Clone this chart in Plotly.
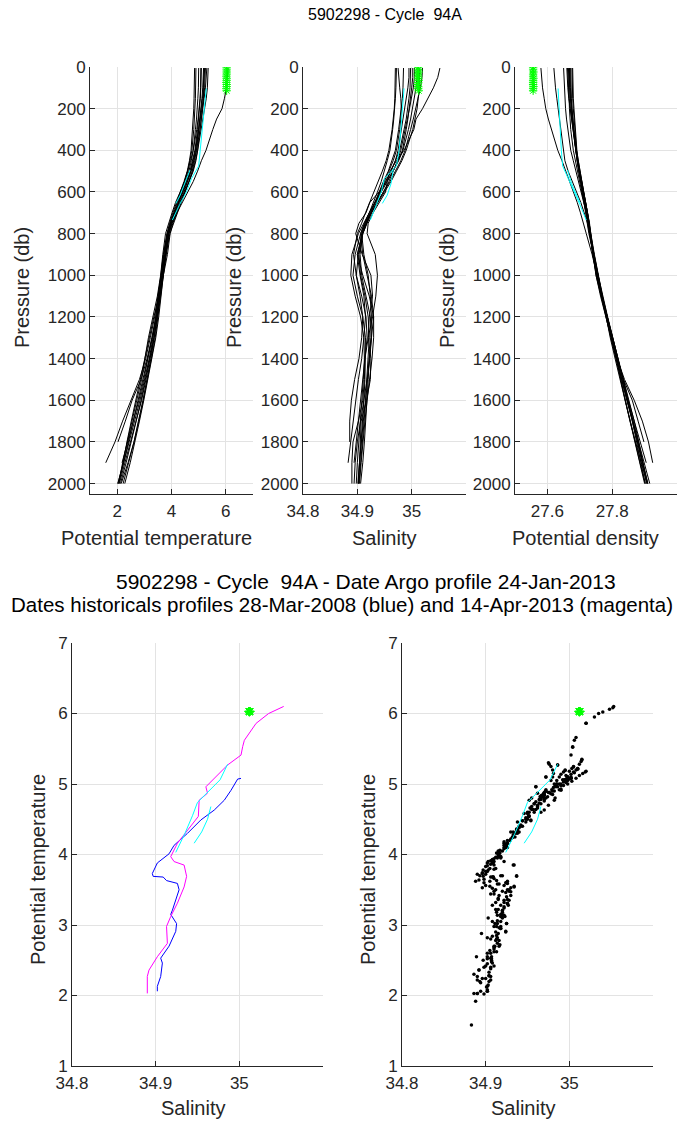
import plotly.graph_objects as go

# ---------------- data ----------------
P = [5, 50, 100, 150, 200, 250, 300, 400, 450, 500, 550, 600, 650, 700, 750, 800,
     900, 1000, 1100, 1200, 1300, 1400, 1500, 1600, 1700, 1800, 1900, 2000]

# historical profiles (potential temperature, salinity, potential density)
theta_w = [6.08, 6.06, 6.02, 5.95, 5.86, 5.66, 5.52, 5.27, 5.10, 4.96, 4.80, 4.60, 4.40, 4.20, 4.05, 3.95,
           3.85, 3.70, 3.55, 3.35, 3.18, 3.02, 2.85, 2.68, 2.52, 2.36, 2.22, 2.03]
sal_w = [35.052, 35.048, 35.040, 35.030, 35.020, 35.008, 35.004, 34.986, 34.972, 34.960, 34.955, 34.952, 34.940, 34.929, 34.920, 34.918,
         34.933, 34.937, 34.934, 34.928, 34.920, 34.914, 34.913, 34.910, 34.902, 34.892, 34.890, 34.890]
sig_w = [27.580, 27.582, 27.585, 27.590, 27.595, 27.603, 27.612, 27.632, 27.645, 27.657, 27.668, 27.682, 27.692, 27.702, 27.712, 27.720,
         27.738, 27.752, 27.768, 27.785, 27.802, 27.818, 27.835, 27.852, 27.868, 27.882, 27.895, 27.908]

theta_b = [5.08, 5.08, 5.07, 5.05, 5.02, 4.98, 4.93, 4.80, 4.70, 4.60, 4.48, 4.32, 4.15, 4.02, 3.90, 3.78,
           3.68, 3.60, 3.48, 3.32, 3.15, 3.02, 2.90, 2.72, 2.55, 2.38, 2.20, 2.06]
sal_b = [35.002, 35.002, 35.000, 34.998, 34.996, 34.993, 34.990, 34.983, 34.975, 34.966, 34.954, 34.940, 34.923, 34.916, 34.903, 34.897,
         34.909, 34.925, 34.928, 34.922, 34.920, 34.925, 34.924, 34.917, 34.907, 34.906, 34.904, 34.902]
sig_b = [27.676, 27.676, 27.677, 27.678, 27.680, 27.682, 27.684, 27.690, 27.694, 27.698, 27.702, 27.707, 27.713, 27.718, 27.723, 27.728,
         27.742, 27.756, 27.770, 27.786, 27.802, 27.818, 27.832, 27.848, 27.862, 27.876, 27.890, 27.902]

theta_h1 = [5.20, 5.19, 5.17, 5.14, 5.10, 5.05, 5.00, 4.88, 4.80, 4.70, 4.55, 4.40, 4.25, 4.10, 3.96, 3.85,
            3.72, 3.62, 3.50, 3.38, 3.22, 3.05, 2.82, 2.50, 2.20, 1.92, 1.58, None]
sal_h1 = [34.995, 34.995, 34.993, 34.990, 34.988, 34.985, 34.982, 34.975, 34.970, 34.962, 34.952, 34.944, 34.935, 34.926, 34.918, 34.910,
          34.900, 34.905, 34.912, 34.915, 34.912, 34.908, 34.902, 34.897, 34.893, 34.888, 34.883, None]
sig_h1 = [27.668, 27.668, 27.669, 27.671, 27.674, 27.678, 27.682, 27.690, 27.695, 27.700, 27.706, 27.712, 27.718, 27.724, 27.729, 27.732,
          27.740, 27.752, 27.768, 27.782, 27.800, 27.815, 27.838, 27.868, 27.893, 27.912, 27.925, None]

theta_h2 = [5.30, 5.28, 5.25, 5.20, 5.15, 5.10, 5.05, 4.92, 4.83, 4.72, 4.58, 4.42, 4.28, 4.12, 3.98, 3.88,
            3.76, 3.65, 3.55, 3.44, 3.28, 3.10, 2.88, 2.55, 2.30, 2.03, None, None]
sal_h2 = [34.975, 34.976, 34.978, 34.980, 34.981, 34.980, 34.978, 34.972, 34.966, 34.958, 34.950, 34.942, 34.933, 34.924, 34.915, 34.908,
          34.902, 34.898, 34.905, 34.910, 34.908, 34.903, 34.895, 34.889, 34.886, 34.886, None, None]
sig_h2 = [27.620, 27.622, 27.625, 27.629, 27.633, 27.637, 27.641, 27.648, 27.654, 27.664, 27.676, 27.690, 27.703, 27.714, 27.724, 27.730,
          27.742, 27.750, 27.766, 27.780, 27.797, 27.814, 27.835, 27.862, 27.880, 27.898, None, None]

theta_h3 = [4.90, 4.90, 4.89, 4.88, 4.86, 4.84, 4.82, 4.75, 4.68, 4.60, 4.48, 4.35, 4.22, 4.08, 3.95, 3.86,
            3.74, 3.64, 3.56, 3.48, 3.36, 3.22, 3.06, 2.90, 2.70, 2.50, 2.28, 2.08]
sal_h3 = [34.972, 34.972, 34.971, 34.970, 34.969, 34.967, 34.965, 34.960, 34.955, 34.950, 34.944, 34.937, 34.930, 34.922, 34.914, 34.906,
          34.896, 34.892, 34.900, 34.910, 34.915, 34.915, 34.914, 34.912, 34.910, 34.907, 34.904, 34.902]
sig_h3 = [27.665, 27.665, 27.666, 27.667, 27.668, 27.670, 27.672, 27.680, 27.686, 27.692, 27.700, 27.706, 27.713, 27.720, 27.726, 27.731,
          27.740, 27.750, 27.764, 27.780, 27.797, 27.812, 27.830, 27.846, 27.864, 27.880, 27.896, 27.910]

theta_h4 = [5.35, 5.34, 5.32, 5.28, 5.22, 5.16, 5.10, 4.98, 4.90, 4.80, 4.66, 4.50, 4.33, 4.16, 4.02, 3.90,
            3.78, 3.68, 3.58, 3.48, 3.35, 3.20, 3.05, 2.88, 2.70, 2.52, 2.33, 2.12]
sal_h4 = [35.015, 35.015, 35.014, 35.012, 35.010, 35.006, 35.002, 34.990, 34.982, 34.972, 34.962, 34.950, 34.938, 34.926, 34.917, 34.910,
          34.903, 34.906, 34.914, 34.920, 34.922, 34.920, 34.918, 34.915, 34.911, 34.907, 34.904, 34.901]
sig_h4 = [27.660, 27.661, 27.663, 27.666, 27.670, 27.674, 27.678, 27.686, 27.692, 27.698, 27.705, 27.711, 27.718, 27.724, 27.729, 27.733,
          27.742, 27.754, 27.768, 27.783, 27.798, 27.814, 27.829, 27.845, 27.862, 27.878, 27.894, 27.910]

theta_h5 = [5.00, 5.00, 4.99, 4.97, 4.95, 4.92, 4.88, 4.80, 4.73, 4.64, 4.52, 4.38, 4.24, 4.10, 3.98, 3.88,
            3.76, 3.66, 3.56, 3.47, 3.36, 3.24, 3.10, 2.95, 2.78, 2.62, 2.42, 2.22]
sal_h5 = [34.985, 34.985, 34.984, 34.983, 34.981, 34.979, 34.976, 34.970, 34.964, 34.957, 34.948, 34.940, 34.932, 34.924, 34.916, 34.909,
          34.900, 34.910, 34.922, 34.930, 34.926, 34.922, 34.920, 34.918, 34.916, 34.913, 34.910, 34.906]
sig_h5 = [27.672, 27.672, 27.673, 27.674, 27.676, 27.678, 27.681, 27.688, 27.693, 27.699, 27.705, 27.711, 27.717, 27.723, 27.728, 27.732,
          27.740, 27.754, 27.770, 27.785, 27.799, 27.812, 27.826, 27.840, 27.856, 27.870, 27.886, 27.902]

theta_h6 = [5.25, 5.24, 5.22, 5.18, 5.12, 5.06, 5.00, 4.90, 4.82, 4.72, 4.60, 4.46, 4.30, 4.14, 4.00, 3.90,
            3.80, 3.70, 3.60, 3.50, 3.40, 3.26, 3.12, 2.96, 2.80, 2.62, 2.40, 2.15]
sal_h6 = [35.005, 35.005, 35.003, 35.000, 34.996, 34.992, 34.988, 34.980, 34.974, 34.966, 34.958, 34.948, 34.936, 34.925, 34.915, 34.908,
          34.912, 34.920, 34.924, 34.926, 34.925, 34.922, 34.919, 34.916, 34.913, 34.910, 34.906, 34.903]
sig_h6 = [27.662, 27.663, 27.664, 27.667, 27.671, 27.675, 27.679, 27.686, 27.690, 27.696, 27.702, 27.709, 27.716, 27.722, 27.727, 27.731,
          27.744, 27.756, 27.768, 27.781, 27.794, 27.809, 27.824, 27.840, 27.855, 27.872, 27.890, 27.908]

theta_h7 = [5.10, 5.10, 5.08, 5.06, 5.03, 5.00, 4.96, 4.86, 4.78, 4.68, 4.54, 4.40, 4.25, 4.10, 3.96, 3.84,
            3.72, 3.62, 3.53, 3.44, 3.32, 3.18, 3.02, 2.84, 2.64, 2.45, 2.24, 2.02]
sal_h7 = [34.998, 34.998, 34.997, 34.995, 34.993, 34.990, 34.986, 34.978, 34.970, 34.962, 34.952, 34.942, 34.932, 34.922, 34.912, 34.902,
          34.890, 34.888, 34.896, 34.906, 34.912, 34.913, 34.911, 34.908, 34.905, 34.902, 34.900, 34.898]
sig_h7 = [27.670, 27.670, 27.671, 27.673, 27.675, 27.678, 27.681, 27.688, 27.693, 27.699, 27.706, 27.712, 27.719, 27.725, 27.730, 27.734,
          27.742, 27.752, 27.766, 27.780, 27.796, 27.812, 27.829, 27.847, 27.865, 27.882, 27.898, 27.916]

theta_h8 = [5.18, 5.17, 5.15, 5.12, 5.08, 5.04, 5.00, 4.92, 4.85, 4.76, 4.64, 4.50, 4.36, 4.20, 4.06, 3.94,
            3.80, 3.68, 3.58, 3.46, 3.30, 3.12, 2.95, 2.78, 2.60, 2.42, 2.24, 2.06]
sal_h8 = [35.020, 35.019, 35.016, 35.012, 35.008, 35.003, 34.998, 34.988, 34.980, 34.970, 34.960, 34.948, 34.937, 34.926, 34.917, 34.910,
          34.905, 34.908, 34.916, 34.924, 34.926, 34.923, 34.918, 34.912, 34.906, 34.900, 34.896, 34.894]
sig_h8 = [27.678, 27.678, 27.679, 27.680, 27.682, 27.684, 27.686, 27.691, 27.695, 27.700, 27.706, 27.712, 27.718, 27.724, 27.729, 27.734,
          27.745, 27.757, 27.770, 27.785, 27.802, 27.818, 27.833, 27.849, 27.864, 27.878, 27.893, 27.906]

theta_h9 = [4.85, 4.85, 4.84, 4.83, 4.82, 4.80, 4.78, 4.72, 4.66, 4.58, 4.46, 4.32, 4.18, 4.05, 3.93, 3.83,
            3.70, 3.60, 3.52, 3.42, 3.28, 3.14, 2.98, 2.80, 2.60, 2.40, 2.18, None]
sal_h9 = [34.970, 34.970, 34.970, 34.969, 34.968, 34.966, 34.964, 34.958, 34.953, 34.946, 34.938, 34.930, 34.922, 34.915, 34.908, 34.900,
          34.893, 34.898, 34.908, 34.916, 34.918, 34.914, 34.910, 34.906, 34.902, 34.898, 34.894, None]
sig_h9 = [27.650, 27.651, 27.652, 27.654, 27.656, 27.659, 27.663, 27.672, 27.680, 27.688, 27.697, 27.705, 27.713, 27.720, 27.726, 27.731,
          27.741, 27.753, 27.768, 27.784, 27.800, 27.816, 27.832, 27.850, 27.868, 27.886, 27.905, None]

theta_h10 = [5.22, 5.21, 5.20, 5.17, 5.14, 5.10, 5.06, 4.96, 4.88, 4.78, 4.64, 4.48, 4.32, 4.16, 4.02, 3.91,
             3.79, 3.70, 3.62, 3.53, 3.42, 3.28, 3.14, 2.98, 2.82, 2.66, 2.48, 2.28]
sal_h10 = [35.010, 35.010, 35.008, 35.005, 35.002, 34.998, 34.994, 34.984, 34.976, 34.966, 34.955, 34.944, 34.933, 34.922, 34.913, 34.906,
           34.910, 34.918, 34.926, 34.930, 34.930, 34.927, 34.922, 34.918, 34.914, 34.910, 34.907, 34.904]
sig_h10 = [27.668, 27.668, 27.669, 27.671, 27.673, 27.676, 27.680, 27.687, 27.692, 27.698, 27.704, 27.711, 27.717, 27.723, 27.729, 27.733,
           27.744, 27.756, 27.769, 27.783, 27.797, 27.811, 27.825, 27.840, 27.855, 27.870, 27.886, 27.900]

# current Argo profile (cyan) – two segments
cyan_p = [103, 200, 300, 400, 475, 535, 600, 660, 735, None, 495, 560, 615, 655]
cyan_theta = [5.28, 5.20, 5.12, 5.06, 5.00, 4.74, 4.55, 4.30, 4.03, None, 4.68, 4.50, 4.32, 4.16]
cyan_sal = [34.986, 34.983, 34.980, 34.977, 34.972, 34.950, 34.944, 34.935, 34.924, None, 34.966, 34.962, 34.955, 34.946]
cyan_sig = [27.633, 27.636, 27.640, 27.643, 27.647, 27.665, 27.682, 27.700, 27.720, None, 27.662, 27.675, 27.690, 27.702]

# green near-surface points
green_p = [4, 14, 24, 34, 44, 54, 64, 74, 84, 94, 104, 114]
green_theta = [6.03, 6.03, 6.03, 6.03, 6.02, 6.03, 6.03, 6.02, 6.03, 6.03, 6.02, 6.03]
green_sal = [35.012, 35.012, 35.013, 35.011, 35.012, 35.012, 35.013, 35.012, 35.011, 35.012, 35.012, 35.013]
green_sig = [27.556, 27.556, 27.557, 27.556, 27.556, 27.557, 27.556, 27.556, 27.556, 27.557, 27.556, 27.556]

# detailed theta-S of the two selected historical profiles
blue_sal = [35.002, 34.998, 34.990, 34.982, 34.970, 34.954, 34.938, 34.922, 34.916, 34.902, 34.896, 34.897, 34.909,
            34.913, 34.926, 34.928, 34.920, 34.918, 34.925, 34.924, 34.916, 34.906, 34.908, 34.906, 34.902, 34.902]
blue_theta = [5.08, 5.07, 4.91, 4.77, 4.63, 4.49, 4.30, 4.13, 4.01, 3.88, 3.73, 3.69, 3.68,
              3.63, 3.59, 3.50, 3.21, 3.15, 3.02, 2.91, 2.70, 2.53, 2.46, 2.27, 2.13, 2.06]
mag_sal = [35.053, 35.035, 35.020, 35.006, 35.004, 35.002, 34.986, 34.972, 34.960, 34.962, 34.952, 34.951, 34.938, 34.926,
           34.918, 34.922, 34.934, 34.937, 34.934, 34.926, 34.918, 34.913, 34.914, 34.902, 34.892, 34.890, 34.890]
mag_theta = [6.10, 6.00, 5.86, 5.62, 5.53, 5.41, 5.27, 5.10, 4.96, 4.87, 4.77, 4.54, 4.35, 4.16,
             3.97, 3.90, 3.85, 3.69, 3.54, 3.31, 3.12, 2.98, 2.74, 2.55, 2.36, 2.27, 2.03]

hist_theta = [theta_w, theta_b, theta_h1, theta_h2, theta_h3, theta_h4, theta_h5, theta_h6,
              theta_h7, theta_h8, theta_h9, theta_h10]
hist_sal = [sal_w, sal_b, sal_h1, sal_h2, sal_h3, sal_h4, sal_h5, sal_h6, sal_h7, sal_h8, sal_h9, sal_h10]
hist_sig = [sig_w, sig_b, sig_h1, sig_h2, sig_h3, sig_h4, sig_h5, sig_h6, sig_h7, sig_h8, sig_h9, sig_h10]

# ---------------- figure ----------------
W, H = 686, 1124
FONT = "Liberation Sans, Arial, Helvetica, sans-serif"
INK = "#262626"


def xd(a, b):
    return [a / W, b / W]


def yd(top, bottom):
    return [1 - bottom / H, 1 - top / H]


fig = go.Figure()

line_black = dict(color="black", width=1)
for th, sa, sg in zip(hist_theta, hist_sal, hist_sig):
    fig.add_trace(go.Scatter(x=th, y=P, mode="lines", line=line_black, xaxis="x", yaxis="y"))
    fig.add_trace(go.Scatter(x=sa, y=P, mode="lines", line=line_black, xaxis="x2", yaxis="y2"))
    fig.add_trace(go.Scatter(x=sg, y=P, mode="lines", line=line_black, xaxis="x3", yaxis="y3"))

cyan_line = dict(color="#00ffff", width=1)
green_mk = dict(symbol="asterisk-open", color="#00ff00", size=7, line=dict(color="#00ff00", width=1))
for xs, ax in [(cyan_theta, ""), (cyan_sal, "2"), (cyan_sig, "3")]:
    fig.add_trace(go.Scatter(x=xs, y=cyan_p, mode="lines", line=cyan_line,
                             xaxis="x" + ax, yaxis="y" + ax))
for xs, ax in [(green_theta, ""), (green_sal, "2"), (green_sig, "3")]:
    fig.add_trace(go.Scatter(x=xs, y=green_p, mode="markers", marker=green_mk,
                             xaxis="x" + ax, yaxis="y" + ax))

# bottom-left: selected historical profiles
fig.add_trace(go.Scatter(x=blue_sal, y=blue_theta, mode="lines", line=dict(color="#0000ff", width=1),
                         xaxis="x4", yaxis="y4"))
fig.add_trace(go.Scatter(x=mag_sal, y=mag_theta, mode="lines", line=dict(color="#ff00ff", width=1),
                         xaxis="x4", yaxis="y4"))
fig.add_trace(go.Scatter(x=cyan_sal, y=cyan_theta, mode="lines", line=cyan_line, xaxis="x4", yaxis="y4"))
fig.add_trace(go.Scatter(x=green_sal, y=green_theta, mode="markers", marker=green_mk, xaxis="x4", yaxis="y4"))

# bottom-right: all historical points
dot_s, dot_t = [], []
for th, sa in zip(hist_theta, hist_sal):
    for t, s in zip(th, sa):
        if t is not None and s is not None:
            dot_s.append(s)
            dot_t.append(t)
dot_s += blue_sal + mag_sal
dot_t += blue_theta + mag_theta
fig.add_trace(go.Scatter(x=dot_s, y=dot_t, mode="markers", marker=dict(color="black", size=3.5),
                         xaxis="x5", yaxis="y5"))
fig.add_trace(go.Scatter(x=cyan_sal, y=cyan_theta, mode="lines", line=cyan_line, xaxis="x5", yaxis="y5"))
fig.add_trace(go.Scatter(x=green_sal, y=green_theta, mode="markers", marker=green_mk, xaxis="x5", yaxis="y5"))

ax_common = dict(showline=True, linecolor=INK, linewidth=1, ticks="inside", ticklen=5, tickcolor=INK,
                 tickfont=dict(family=FONT, size=17, color=INK), showgrid=True, gridcolor="#e3e3e3",
                 gridwidth=1, zeroline=False, mirror=False, fixedrange=True, automargin=False)
x_common = dict(ax_common, ticklabelstandoff=2)

top_y = dict(ax_common, range=[2050, 0], tickvals=list(range(0, 2001, 200)), domain=yd(67, 494))
bot_y = dict(ax_common, range=[1, 7], tickvals=[1, 2, 3, 4, 5, 6, 7], domain=yd(643, 1066))
sal_ticks = dict(tickvals=[34.8, 34.9, 35.0], ticktext=["34.8", "34.9", "35"])

fig.update_layout(
    template="none",
    width=W, height=H, margin=dict(l=0, r=0, t=0, b=0, pad=0, autoexpand=False),
    paper_bgcolor="white", plot_bgcolor="white", showlegend=False,
    font=dict(family=FONT, color=INK),
    xaxis=dict(x_common, range=[1, 7], tickvals=[2, 4, 6], domain=xd(90, 253), anchor="y"),
    yaxis=dict(top_y, anchor="x"),
    xaxis2=dict(x_common, range=[34.8, 35.1], domain=xd(303, 466), anchor="y2", **sal_ticks),
    yaxis2=dict(top_y, anchor="x2"),
    xaxis3=dict(x_common, range=[27.5, 28.0], tickvals=[27.6, 27.8, 28.0], ticktext=["27.6", "27.8", "28"],
                domain=xd(515, 677), anchor="y3"),
    yaxis3=dict(top_y, anchor="x3"),
    xaxis4=dict(x_common, range=[34.8, 35.1], domain=xd(72, 323), anchor="y4", **sal_ticks),
    yaxis4=dict(bot_y, anchor="x4"),
    xaxis5=dict(x_common, range=[34.8, 35.1], domain=xd(402, 653), anchor="y5", **sal_ticks),
    yaxis5=dict(bot_y, anchor="x5"),
)


def ann(text, px, py, size, angle=0, xanchor="center", color=INK):
    fig.add_annotation(text=text, x=px / W, y=1 - py / H, xref="paper", yref="paper", showarrow=False,
                       xanchor=xanchor, yanchor="middle", textangle=angle,
                       font=dict(family=FONT, size=size, color=color))


ann("5902298 - Cycle\u00a0 94A", 385, 14, 16, color="black")
ann("5902298 - Cycle\u00a0 94A - Date Argo profile 24-Jan-2013", 366, 581, 21, color="black")
ann("Dates historicals profiles 28-Mar-2008 (blue) and 14-Apr-2013 (magenta)", 342, 604, 20.5,
    color="black")

ann("Potential temperature", 156, 538, 20)
ann("Salinity", 384, 538, 20)
ann("Potential density", 585, 538, 20)
for xp in (22, 234, 447):
    ann("Pressure (db)", xp, 288, 20, angle=-90)
ann("Salinity", 193, 1108, 20)
ann("Salinity", 523, 1108, 20)
ann("Potential temperature", 38, 870, 20, angle=-90)
ann("Potential temperature", 368, 870, 20, angle=-90)

fig.write_html("out.html", config={"displayModeBar": False},
               post_script="document.body.style.margin='0';")
